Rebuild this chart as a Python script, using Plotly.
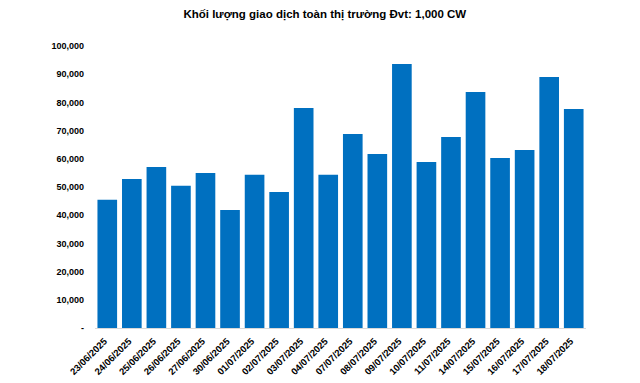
import plotly.graph_objects as go

dates = ["23/06/2025", "24/06/2025", "25/06/2025", "26/06/2025", "27/06/2025",
         "30/06/2025", "01/07/2025", "02/07/2025", "03/07/2025", "04/07/2025",
         "07/07/2025", "08/07/2025", "09/07/2025", "10/07/2025", "11/07/2025",
         "14/07/2025", "15/07/2025", "16/07/2025", "17/07/2025", "18/07/2025"]
volumes = [45500, 52800, 57100, 50400, 55000,
           41800, 54300, 48200, 78000, 54300,
           68800, 61700, 93600, 58900, 67700,
           83700, 60300, 63100, 89000, 77700]
y_tickvals = [0, 10000, 20000, 30000, 40000, 50000, 60000, 70000, 80000, 90000, 100000]
y_ticktext = ["-", "10,000", "20,000", "30,000", "40,000", "50,000",
              "60,000", "70,000", "80,000", "90,000", "100,000"]
title_text = "Khối lượng giao dịch toàn thị trường Đvt: 1,000 CW"

fig = go.Figure(go.Bar(x=dates, y=volumes, marker_color="#0070C0",
                       marker_line_width=0))
fig.update_layout(
    width=640, height=383,
    margin=dict(l=87, r=62, t=38, b=63),
    paper_bgcolor="white", plot_bgcolor="white",
    bargap=0.2,
    font=dict(family="Liberation Sans, Arial, sans-serif", color="#000000"),
    title=dict(text=title_text, x=0.495, xanchor="center",
               y=1, yanchor="top", pad=dict(t=2, b=0, l=0, r=0),
               font=dict(size=11.5, color="#000000", weight="bold")),
    showlegend=False,
)
fig.update_xaxes(type="category", tickangle=-45, showgrid=False,
                 showline=True, linecolor="#D9D9D9", linewidth=1,
                 ticks="", automargin=False, ticklabelshift=-3,
                 ticklabelstandoff=3,
                 tickfont=dict(size=9.5, color="#000000", weight="bold"))
fig.update_yaxes(range=[0, 100000], tickvals=y_tickvals, ticktext=y_ticktext,
                 showgrid=False, zeroline=False, showline=False, ticks="",
                 ticklabelstandoff=10, automargin=False,
                 tickfont=dict(size=9, color="#000000", weight="bold"))
fig.write_html("out.html")
